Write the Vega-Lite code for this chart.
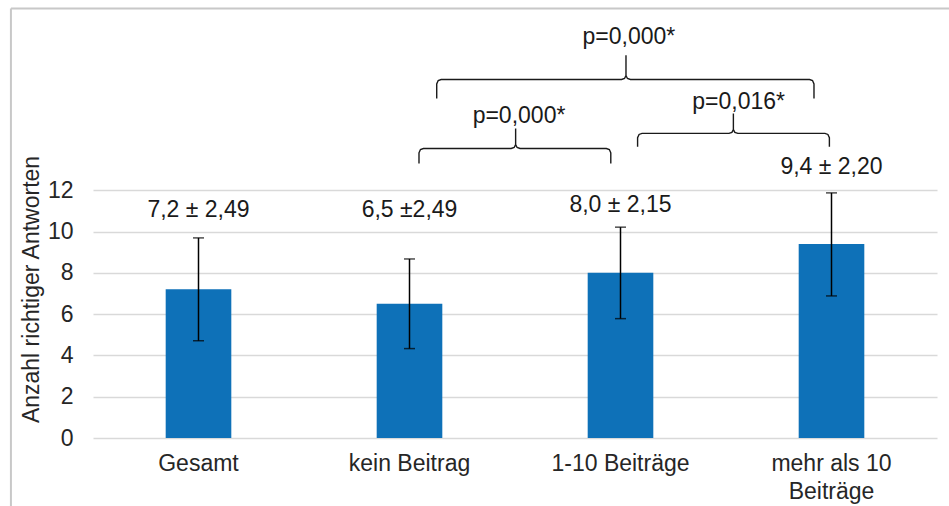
{
  "$schema": "https://vega.github.io/schema/vega-lite/v6.json",
  "width": 844,
  "height": 413,
  "autosize": {"type": "none"},
  "padding": {"left": 93, "top": 25, "right": 12, "bottom": 68},
  "background": "white",
  "config": {
    "view": {"stroke": null},
    "font": "Liberation Sans"
  },
  "datasets": {
    "bars": [
      {"cat": "Gesamt", "mean": 7.2, "lo": 4.71, "hi": 9.69, "label": "7,2 ± 2,49", "ly": 11.03},
      {"cat": "kein Beitrag", "mean": 6.5, "lo": 4.33, "hi": 8.67, "label": "6,5 ±2,49", "ly": 11.03},
      {"cat": "1-10 Beiträge", "mean": 8.0, "lo": 5.78, "hi": 10.21, "label": "8,0 ± 2,15", "ly": 11.27},
      {"cat": "mehr als 10 Beiträge", "mean": 9.4, "lo": 6.88, "hi": 11.87, "label": "9,4 ± 2,20", "ly": 13.14}
    ],
    "brackets": [
      {"id": "a", "o": 1, "bx": 1.629, "by": 16.44},
      {"id": "a", "o": 2, "bx": 1.629, "by": 17.15},
      {"id": "a", "o": 3, "bx": 1.636, "by": 17.31},
      {"id": "a", "o": 4, "bx": 1.650, "by": 17.36},
      {"id": "a", "o": 5, "bx": 2.505, "by": 17.36},
      {"id": "a", "o": 6, "bx": 2.519, "by": 17.41},
      {"id": "a", "o": 7, "bx": 2.526, "by": 17.55},
      {"id": "a", "o": 8, "bx": 2.526, "by": 18.54},
      {"id": "a", "o": 9, "bx": 2.526, "by": 17.55},
      {"id": "a", "o": 10, "bx": 2.533, "by": 17.41},
      {"id": "a", "o": 11, "bx": 2.547, "by": 17.36},
      {"id": "a", "o": 12, "bx": 3.396, "by": 17.36},
      {"id": "a", "o": 13, "bx": 3.410, "by": 17.31},
      {"id": "a", "o": 14, "bx": 3.417, "by": 17.15},
      {"id": "a", "o": 15, "bx": 3.417, "by": 16.44},
      {"id": "b", "o": 1, "bx": 1.545, "by": 13.29},
      {"id": "b", "o": 2, "bx": 1.545, "by": 13.81},
      {"id": "b", "o": 3, "bx": 1.552, "by": 13.97},
      {"id": "b", "o": 4, "bx": 1.566, "by": 14.02},
      {"id": "b", "o": 5, "bx": 1.982, "by": 14.02},
      {"id": "b", "o": 6, "bx": 1.996, "by": 14.07},
      {"id": "b", "o": 7, "bx": 2.003, "by": 14.21},
      {"id": "b", "o": 8, "bx": 2.003, "by": 14.99},
      {"id": "b", "o": 9, "bx": 2.003, "by": 14.21},
      {"id": "b", "o": 10, "bx": 2.010, "by": 14.07},
      {"id": "b", "o": 11, "bx": 2.024, "by": 14.02},
      {"id": "b", "o": 12, "bx": 2.433, "by": 14.02},
      {"id": "b", "o": 13, "bx": 2.447, "by": 13.97},
      {"id": "b", "o": 14, "bx": 2.454, "by": 13.81},
      {"id": "b", "o": 15, "bx": 2.454, "by": 13.29},
      {"id": "c", "o": 1, "bx": 2.581, "by": 14.10},
      {"id": "c", "o": 2, "bx": 2.581, "by": 14.54},
      {"id": "c", "o": 3, "bx": 2.588, "by": 14.70},
      {"id": "c", "o": 4, "bx": 2.602, "by": 14.75},
      {"id": "c", "o": 5, "bx": 3.014, "by": 14.75},
      {"id": "c", "o": 6, "bx": 3.028, "by": 14.80},
      {"id": "c", "o": 7, "bx": 3.035, "by": 14.94},
      {"id": "c", "o": 8, "bx": 3.035, "by": 15.72},
      {"id": "c", "o": 9, "bx": 3.035, "by": 14.94},
      {"id": "c", "o": 10, "bx": 3.042, "by": 14.80},
      {"id": "c", "o": 11, "bx": 3.056, "by": 14.75},
      {"id": "c", "o": 12, "bx": 3.469, "by": 14.75},
      {"id": "c", "o": 13, "bx": 3.483, "by": 14.70},
      {"id": "c", "o": 14, "bx": 3.490, "by": 14.54},
      {"id": "c", "o": 15, "bx": 3.490, "by": 14.10}
    ],
    "pvals": [
      {"px": 2.54, "py": 19.4, "t": "p=0,000*"},
      {"px": 2.019, "py": 15.58, "t": "p=0,000*"},
      {"px": 3.06, "py": 16.26, "t": "p=0,016*"}
    ],
    "border": [
      {"x1": -0.389, "x2": 4.06, "y1": 20.8, "y2": 20.8},
      {"x1": -0.389, "x2": -0.389, "y1": 20.8, "y2": -3.3}
    ]
  },
  "layer": [
    {
      "data": {"name": "bars"},
      "encoding": {
        "x": {
          "field": "cat", "type": "nominal", "sort": null,
          "scale": {"paddingInner": 0.689, "paddingOuter": 0.3445},
          "axis": {
            "title": null, "ticks": false, "domain": false, "labelAngle": 0,
            "labelFontSize": 23, "labelColor": "#262626", "labelPadding": 14,
            "labelLimit": 0, "labelLineHeight": 28, "labelBaseline": "top",
            "labelExpr": "datum.label == 'mehr als 10 Beiträge' ? ['mehr als 10', 'Beiträge'] : datum.label"
          }
        }
      },
      "layer": [
        {
          "mark": {"type": "bar", "color": "#0E71B8"},
          "encoding": {
            "y": {
              "field": "mean", "type": "quantitative",
              "scale": {"domain": [0, 20], "nice": false},
              "axis": {
                "values": [0, 2, 4, 6, 8, 10, 12], "grid": true, "gridColor": "#d9d9d9",
                "gridWidth": 1.5, "domain": false, "ticks": false,
                "labelFontSize": 23, "labelColor": "#262626", "labelPadding": 20,
                "title": "Anzahl richtiger Antworten", "titleFontSize": 23,
                "titleFontWeight": "normal", "titleColor": "#262626",
                "titleX": -62, "titleY": 264, "titleAngle": 270,
                "titleAlign": "center", "titleBaseline": "middle"
              }
            }
          }
        },
        {
          "mark": {"type": "rule", "color": "#000000", "strokeWidth": 1.5},
          "encoding": {
            "y": {"field": "lo", "type": "quantitative"},
            "y2": {"field": "hi"}
          }
        },
        {
          "mark": {"type": "tick", "color": "#000000", "thickness": 1.5, "size": 11},
          "encoding": {"y": {"field": "lo", "type": "quantitative"}}
        },
        {
          "mark": {"type": "tick", "color": "#000000", "thickness": 1.5, "size": 11},
          "encoding": {"y": {"field": "hi", "type": "quantitative"}}
        },
        {
          "mark": {"type": "text", "fontSize": 23, "color": "#1a1a1a", "baseline": "middle"},
          "encoding": {
            "y": {"field": "ly", "type": "quantitative"},
            "text": {"field": "label"}
          }
        }
      ]
    },
    {
      "data": {"name": "brackets"},
      "mark": {"type": "line", "color": "#1a1a1a", "strokeWidth": 1.4},
      "encoding": {
        "x": {"field": "bx", "type": "quantitative", "scale": {"domain": [0, 4], "nice": false}, "axis": null},
        "y": {"field": "by", "type": "quantitative", "scale": {"domain": [0, 20], "nice": false}},
        "detail": {"field": "id"},
        "order": {"field": "o", "type": "quantitative"}
      }
    },
    {
      "data": {"name": "pvals"},
      "mark": {"type": "text", "fontSize": 23, "color": "#1a1a1a", "baseline": "middle"},
      "encoding": {
        "x": {"field": "px", "type": "quantitative", "scale": {"domain": [0, 4], "nice": false}, "axis": null},
        "y": {"field": "py", "type": "quantitative", "scale": {"domain": [0, 20], "nice": false}},
        "text": {"field": "t"}
      }
    },
    {
      "data": {"name": "border"},
      "mark": {"type": "rule", "color": "#c8c8c8", "strokeWidth": 2},
      "encoding": {
        "x": {"field": "x1", "type": "quantitative", "scale": {"domain": [0, 4], "nice": false}, "axis": null},
        "x2": {"field": "x2"},
        "y": {"field": "y1", "type": "quantitative", "scale": {"domain": [0, 20], "nice": false}},
        "y2": {"field": "y2"}
      }
    }
  ],
  "resolve": {"scale": {"x": "independent"}}
}
